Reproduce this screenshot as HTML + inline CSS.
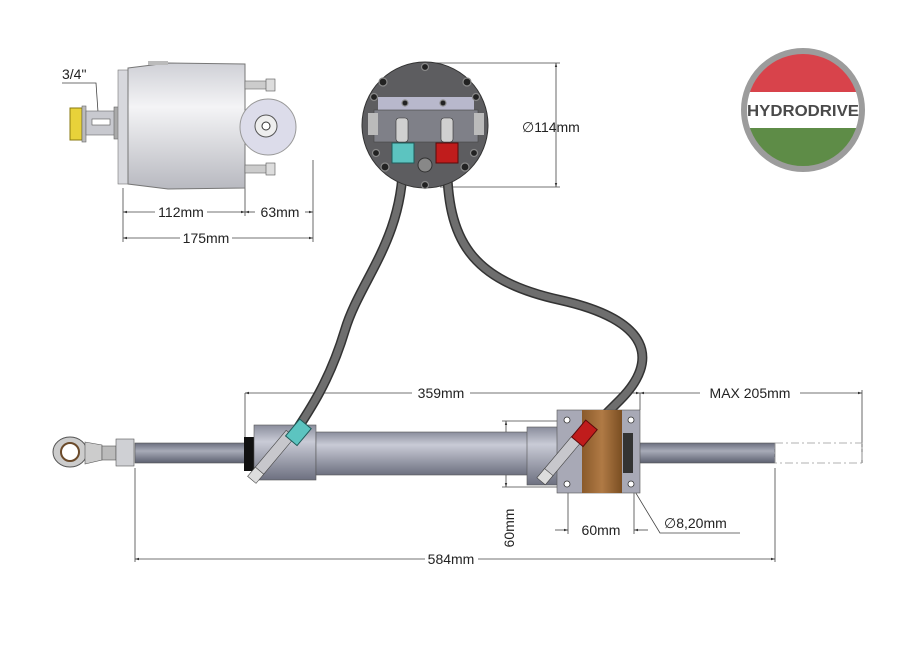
<!DOCTYPE html>
<html><head><meta charset="utf-8"><style>body{margin:0;background:#fff}svg{display:block}text{font-family:"Liberation Sans",sans-serif;fill:#222}</style></head><body>
<svg width="919" height="650" viewBox="0 0 919 650" xmlns="http://www.w3.org/2000/svg">
<defs>
<linearGradient id="body" x1="0" y1="0" x2="0" y2="1"><stop offset="0" stop-color="#cfd0d6"/><stop offset=".35" stop-color="#f4f4f6"/><stop offset="1" stop-color="#b8b9c0"/></linearGradient>
<linearGradient id="cyl" x1="0" y1="0" x2="0" y2="1"><stop offset="0" stop-color="#8a8d9c"/><stop offset=".3" stop-color="#c9cbd6"/><stop offset="1" stop-color="#6d7080"/></linearGradient>
<linearGradient id="rod" x1="0" y1="0" x2="0" y2="1"><stop offset="0" stop-color="#6a6e7e"/><stop offset=".4" stop-color="#a8abb8"/><stop offset="1" stop-color="#5c6070"/></linearGradient>
<linearGradient id="brn" x1="0" y1="0" x2="1" y2="0"><stop offset="0" stop-color="#8a5a2a"/><stop offset=".5" stop-color="#b07a45"/><stop offset="1" stop-color="#7a4e22"/></linearGradient>
<marker id="a" viewBox="0 0 10 10" refX="10" refY="5" markerWidth="7" markerHeight="5" orient="auto-start-reverse"><path d="M0,2 L10,5 L0,8z" fill="#333"/></marker>
</defs>
<g stroke="#444" stroke-width="0.8" fill="none">
<line x1="123" y1="188" x2="123" y2="242"/><line x1="245" y1="160" x2="245" y2="216"/><line x1="313" y1="160" x2="313" y2="242"/>
<line x1="123" y1="212" x2="155" y2="212" marker-start="url(#a)"/><line x1="207" y1="212" x2="245" y2="212" marker-end="url(#a)"/>
<line x1="245" y1="212" x2="255" y2="212" marker-start="url(#a)"/><line x1="305" y1="212" x2="313" y2="212" marker-end="url(#a)"/>
<line x1="123" y1="238" x2="180" y2="238" marker-start="url(#a)"/><line x1="232" y1="238" x2="313" y2="238" marker-end="url(#a)"/>
<polyline points="62,83 96,83 98,112"/>
<line x1="425" y1="63" x2="560" y2="63"/><line x1="440" y1="187" x2="560" y2="187"/>
<line x1="556" y1="63" x2="556" y2="187" marker-start="url(#a)" marker-end="url(#a)"/>
<line x1="245" y1="393" x2="245" y2="440"/><line x1="640" y1="393" x2="640" y2="410"/><line x1="862" y1="390" x2="862" y2="463"/>
<line x1="245" y1="393" x2="412" y2="393" marker-start="url(#a)"/><line x1="470" y1="393" x2="640" y2="393" marker-end="url(#a)"/>
<line x1="640" y1="393" x2="700" y2="393" marker-start="url(#a)"/><line x1="800" y1="393" x2="862" y2="393" marker-end="url(#a)"/>
<line x1="135" y1="468" x2="135" y2="562"/><line x1="775" y1="468" x2="775" y2="562"/>
<line x1="135" y1="559" x2="425" y2="559" marker-start="url(#a)"/><line x1="478" y1="559" x2="775" y2="559" marker-end="url(#a)"/>
<line x1="502" y1="421" x2="560" y2="421"/><line x1="502" y1="487" x2="560" y2="487"/>
<line x1="506" y1="421" x2="506" y2="487" marker-start="url(#a)" marker-end="url(#a)"/>
<line x1="568" y1="493" x2="568" y2="534"/><line x1="634" y1="493" x2="634" y2="534"/>
<line x1="555" y1="530" x2="568" y2="530" marker-end="url(#a)"/><line x1="648" y1="530" x2="634" y2="530" marker-end="url(#a)"/>
<polyline points="634,490 660,533 740,533"/>
</g>
<rect x="70" y="108" width="12" height="32" fill="#e8d23a" stroke="#8a7a10"/>
<rect x="82" y="106" width="4" height="36" fill="#bbb" stroke="#666" stroke-width=".6"/>
<rect x="86" y="111" width="30" height="24" fill="#c8c9cf" stroke="#666" stroke-width=".6"/>
<rect x="92" y="119" width="18" height="6" fill="#fff" stroke="#555" stroke-width=".6"/>
<rect x="114" y="107" width="8" height="32" fill="#aaa" stroke="#666" stroke-width=".6"/>
<rect x="118" y="70" width="10" height="114" fill="#d7d8dd" stroke="#777" stroke-width=".6"/>
<path d="M128,68 L168,63 L245,64 L245,188 L168,189 L128,184 Z" fill="url(#body)" stroke="#777"/>
<rect x="148" y="61" width="20" height="4" fill="#bbb"/>
<circle cx="268" cy="127" r="28" fill="#dcdcea" stroke="#999"/>
<circle cx="266" cy="126" r="11" fill="#eee" stroke="#555"/><circle cx="266" cy="126" r="4" fill="#fff" stroke="#333"/>
<rect x="245" y="81" width="22" height="8" fill="#ccc" stroke="#666" stroke-width=".6"/><rect x="266" y="79" width="9" height="12" fill="#ddd" stroke="#555" stroke-width=".6"/>
<rect x="245" y="165" width="22" height="8" fill="#ccc" stroke="#666" stroke-width=".6"/><rect x="266" y="163" width="9" height="12" fill="#ddd" stroke="#555" stroke-width=".6"/>
<g fill="none" stroke-linecap="round">
<path d="M403,160 C403,240 360,280 345,330 C330,380 310,410 292,437" stroke="#333" stroke-width="10"/>
<path d="M403,160 C403,240 360,280 345,330 C330,380 310,410 292,437" stroke="#6e6e6e" stroke-width="7"/>
<path d="M447,160 C447,240 470,280 560,300 C650,320 660,360 620,400 C605,415 592,428 585,434" stroke="#333" stroke-width="10"/>
<path d="M447,160 C447,240 470,280 560,300 C650,320 660,360 620,400 C605,415 592,428 585,434" stroke="#6e6e6e" stroke-width="7"/>
</g>
<circle cx="425" cy="125" r="63" fill="#5d5d60" stroke="#333"/>
<rect x="378" y="97" width="96" height="14" fill="#b8b8cc"/>
<rect x="374" y="110" width="104" height="32" fill="#7f8088" stroke="#444" stroke-width=".6"/>
<rect x="368" y="113" width="10" height="22" fill="#bbb"/><rect x="474" y="113" width="10" height="22" fill="#bbb"/>
<rect x="396" y="118" width="12" height="24" rx="3" fill="#d0d0d0" stroke="#333" stroke-width=".6"/>
<rect x="441" y="118" width="12" height="24" rx="3" fill="#d0d0d0" stroke="#333" stroke-width=".6"/>
<rect x="392" y="143" width="22" height="20" fill="#5cc4c0" stroke="#1e5c5a"/>
<rect x="436" y="143" width="22" height="20" fill="#c01c1c" stroke="#5a0a0a"/>
<circle cx="425" cy="165" r="7" fill="#888" stroke="#333"/>
<g fill="#222" stroke="#888" stroke-width="1.2">
<circle cx="425" cy="67" r="3.5"/><circle cx="383" cy="82" r="4"/><circle cx="467" cy="82" r="4"/><circle cx="374" cy="97" r="3.5"/><circle cx="476" cy="97" r="3.5"/>
<circle cx="376" cy="153" r="3.5"/><circle cx="474" cy="153" r="3.5"/><circle cx="385" cy="167" r="4"/><circle cx="465" cy="167" r="4"/><circle cx="425" cy="185" r="3.5"/>
<circle cx="405" cy="103" r="3"/><circle cx="443" cy="103" r="3"/></g>
<circle cx="803" cy="110" r="60" fill="#fff"/>
<clipPath id="c"><circle cx="803" cy="110" r="57"/></clipPath>
<g clip-path="url(#c)"><rect x="740" y="50" width="130" height="42" fill="#d8434b"/><rect x="740" y="128" width="130" height="45" fill="#5e8c47"/></g>
<circle cx="803" cy="110" r="59" fill="none" stroke="#9c9c9c" stroke-width="6"/>
<text x="803" y="116" text-anchor="middle" font-size="16" font-weight="bold" textLength="112" lengthAdjust="spacingAndGlyphs" style="fill:#4a4a4a">HYDRODRIVE</text>
<rect x="135" y="443" width="640" height="20" fill="url(#rod)" stroke="#555" stroke-width=".6"/>
<rect x="775" y="443" width="87" height="20" fill="none" stroke="#999" stroke-width=".8" stroke-dasharray="8,3,2,3"/>
<ellipse cx="70" cy="452" rx="17" ry="15" fill="#ccc" stroke="#555"/><circle cx="70" cy="452" r="9" fill="#fff" stroke="#6b4a2a" stroke-width="2"/>
<path d="M85,442 L102,445 L102,460 L85,464Z" fill="#ccc" stroke="#555" stroke-width=".6"/>
<rect x="102" y="446" width="14" height="14" fill="#bbb" stroke="#555" stroke-width=".6"/>
<rect x="116" y="439" width="18" height="27" fill="#cfd0d4" stroke="#555" stroke-width=".6"/>
<rect x="244" y="437" width="10" height="34" fill="#111"/>
<rect x="254" y="425" width="62" height="55" fill="url(#cyl)" stroke="#555" stroke-width=".6"/>
<rect x="316" y="432" width="212" height="43" fill="url(#cyl)" stroke="#555" stroke-width=".6"/>
<rect x="527" y="427" width="35" height="58" fill="url(#cyl)" stroke="#555" stroke-width=".6"/>
<rect x="557" y="410" width="83" height="83" fill="#a8a9b6" stroke="#555" stroke-width=".6"/>
<rect x="582" y="410" width="40" height="83" fill="url(#brn)"/>
<rect x="623" y="433" width="10" height="40" fill="#333"/>
<g fill="#fff" stroke="#333" stroke-width=".8"><circle cx="567" cy="420" r="3"/><circle cx="631" cy="420" r="3"/><circle cx="567" cy="484" r="3"/><circle cx="631" cy="484" r="3"/></g>
<g transform="rotate(-50 272 455)"><rect x="250" y="450" width="50" height="11" fill="#c7c7cc" stroke="#444" stroke-width=".6"/><rect x="240" y="450" width="12" height="11" fill="#ddd" stroke="#444" stroke-width=".6"/></g>
<g transform="rotate(-50 298 432)"><rect x="287" y="425" width="22" height="15" fill="#5cc4c0" stroke="#1e5c5a"/></g>
<g transform="rotate(-50 560 458)"><rect x="540" y="453" width="44" height="11" fill="#c7c7cc" stroke="#444" stroke-width=".6"/><rect x="530" y="453" width="12" height="11" fill="#ddd" stroke="#444" stroke-width=".6"/></g>
<g transform="rotate(-50 584 433)"><rect x="573" y="426" width="22" height="15" fill="#c01c1c" stroke="#5a0a0a"/></g>
<g font-size="14">
<text x="62" y="79">3/4"</text>
<text x="181" y="217" text-anchor="middle">112mm</text>
<text x="280" y="217" text-anchor="middle">63mm</text>
<text x="206" y="243" text-anchor="middle">175mm</text>
<text x="522" y="132">∅114mm</text>
<text x="441" y="398" text-anchor="middle">359mm</text>
<text x="750" y="398" text-anchor="middle">MAX 205mm</text>
<text x="451" y="564" text-anchor="middle">584mm</text>
<text x="601" y="535" text-anchor="middle">60mm</text>
<text x="664" y="528">∅8,20mm</text>
<text transform="translate(514 528) rotate(-90)" text-anchor="middle">60mm</text>
</g>
</svg>
</body></html>
